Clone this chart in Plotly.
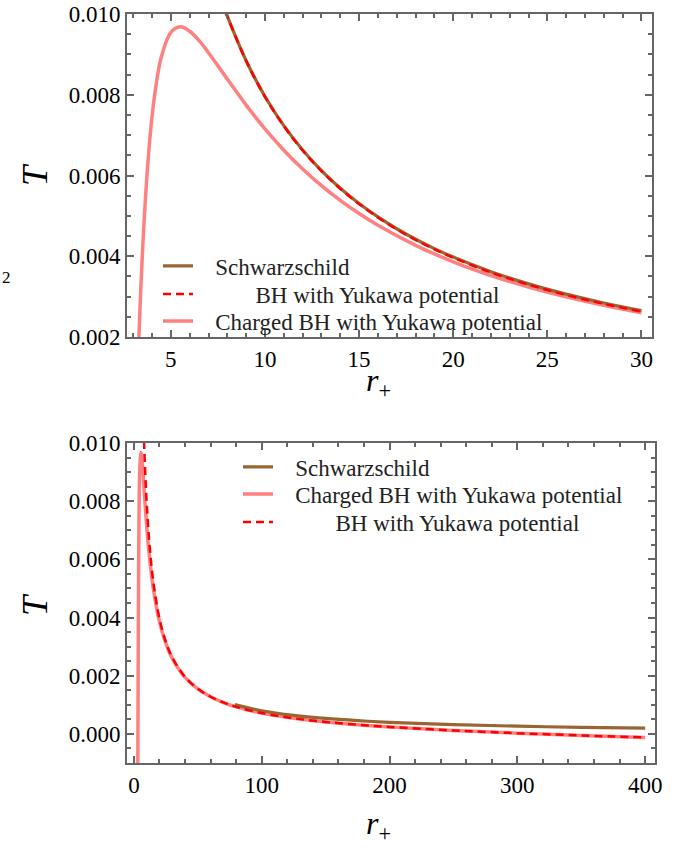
import plotly.graph_objects as go
from plotly.subplots import make_subplots

# ---------------- data ----------------
# Top panel
r_top = [7.9, 8, 9, 10, 11, 12, 13, 14, 15, 16, 17, 18, 19, 20, 22, 24, 26, 28, 30]
T_schw_top = [0.010073, 0.009947, 0.008842, 0.007958, 0.007234, 0.006631, 0.006121,
              0.005684, 0.005305, 0.004974, 0.004681, 0.004421, 0.004188, 0.003979,
              0.003617, 0.003316, 0.003061, 0.002842, 0.002653]
T_yuk_top = [0.010067, 0.009941, 0.008835, 0.007950, 0.007225, 0.006622, 0.006111,
             0.005673, 0.005293, 0.004961, 0.004667, 0.004407, 0.004173, 0.003963,
             0.003599, 0.003297, 0.003040, 0.002820, 0.002629]
r_chg_top = [3.2, 3.25, 3.3, 3.4, 3.5, 3.6, 3.8, 4.0, 4.25, 4.5, 5.0, 5.5, 6.0, 6.5, 7,
             8, 9, 10, 11, 12, 13, 14, 15, 16, 18, 20, 22, 24, 26, 28, 30]
T_chg_top = [0.000580, 0.001301, 0.001968, 0.003156, 0.004173, 0.005046, 0.006436,
             0.007457, 0.008355, 0.008947, 0.009545, 0.009682, 0.009574, 0.009340,
             0.009042, 0.008387, 0.007743, 0.007154, 0.006627, 0.006161, 0.005749,
             0.005383, 0.005057, 0.004766, 0.004271, 0.003863, 0.003524, 0.003239,
             0.002994, 0.002784, 0.002599]

# Bottom panel
r_schw_bot = [79, 100, 125, 150, 175, 200, 250, 300, 350, 400]
T_schw_bot = [0.001007, 0.000796, 0.000637, 0.000531, 0.000455, 0.000398,
              0.000318, 0.000265, 0.000227, 0.000199]
r_chg_bot = [3.1, 3.2, 3.3, 3.5, 4.0, 4.5, 5.5, 7, 8, 10, 12, 15, 20, 25, 30, 40, 50,
             60, 70, 80, 100, 125, 150, 175, 200, 250, 300, 350, 400]
T_chg_bot = [-0.00104, 0.00058, 0.00197, 0.00417, 0.00746, 0.00895, 0.00968, 0.00904,
             0.00839, 0.00715, 0.00616, 0.00506, 0.00386, 0.003112, 0.002599, 0.001945,
             0.001545, 0.001275, 0.001079, 0.000929, 0.000715, 0.000536, 0.000410,
             0.000315, 0.000238, 0.000118, 0.000025, -0.000053, -0.000121]
r_yuk_bot = [7.9, 8, 9, 10, 12, 15, 20, 25, 30, 40, 50, 60, 70, 80, 100, 125, 150,
             175, 200, 250, 300, 350, 400]
T_yuk_bot = [0.010067, 0.009941, 0.008835, 0.007950, 0.006622, 0.005293, 0.003963,
             0.003163, 0.002629, 0.001957, 0.001552, 0.001278, 0.001081, 0.000931,
             0.000716, 0.000537, 0.000411, 0.000315, 0.000238, 0.000118, 0.000025,
             -0.000053, -0.000121]

top_xticks = [5, 10, 15, 20, 25, 30]
bot_xticks = [0, 100, 200, 300, 400]

NB = "\u00a0"
NAME_S = NB * 3 + "Schwarzschild"
NAME_Y = NB * 10 + "BH with Yukawa potential"
NAME_C = NB * 3 + "Charged BH with Yukawa potential"

# ---------------- styles ----------------
BROWN = "#996633"
RED = "#FF0000"
PINK = "#FF8080"
FRAME = "#666666"
FONT = "Liberation Serif, DejaVu Serif, serif"

W, H = 680, 848
ML, MR, MT, MB = 127, 25, 14, 85
pw, ph = W - ML - MR, H - MT - MB


def px_x(px):
    return (px - ML) / pw


def px_y(py):
    return (H - MB - py) / ph


fig = make_subplots(rows=2, cols=1)

# top panel traces
fig.add_trace(go.Scatter(x=r_chg_top, y=T_chg_top, mode="lines", name=NAME_C,
                         line=dict(color=PINK, width=3.5, shape="spline"),
                         legend="legend3"), row=1, col=1)
fig.add_trace(go.Scatter(x=r_top, y=T_schw_top, mode="lines", name=NAME_S,
                         line=dict(color=BROWN, width=3.2, shape="spline"),
                         legend="legend"), row=1, col=1)
fig.add_trace(go.Scatter(x=r_top, y=T_yuk_top, mode="lines", name=NAME_Y,
                         line=dict(color=RED, width=2.5, dash="8px,5px", shape="spline"),
                         legend="legend2"), row=1, col=1)

# bottom panel traces
fig.add_trace(go.Scatter(x=r_chg_bot, y=T_chg_bot, mode="lines", name=NAME_C,
                         line=dict(color=PINK, width=3.5, shape="spline"),
                         legend="legend5"), row=2, col=1)
fig.add_trace(go.Scatter(x=r_schw_bot, y=T_schw_bot, mode="lines", name=NAME_S,
                         line=dict(color=BROWN, width=3.2, shape="spline"),
                         legend="legend4"), row=2, col=1)
fig.add_trace(go.Scatter(x=r_yuk_bot, y=T_yuk_bot, mode="lines", name=NAME_Y,
                         line=dict(color=RED, width=2.5, dash="8px,5px", shape="spline"),
                         legend="legend6"), row=2, col=1)

axis_common = dict(showline=True, mirror="allticks", linecolor=FRAME, linewidth=2,
                   ticks="inside", ticklen=7, tickwidth=1.5, tickcolor=FRAME,
                   showgrid=False, zeroline=False, automargin=False,
                   tickfont=dict(family=FONT, size=23, color="black"))


def leg(xpx, ypx):
    return dict(x=px_x(xpx), y=px_y(ypx), xanchor="left", yanchor="middle",
                bgcolor="rgba(0,0,0,0)", font=dict(family=FONT, size=23, color="#222"),
                tracegroupgap=0, itemwidth=30)


fig.update_layout(
    width=W, height=H,
    margin=dict(l=ML, r=MR, t=MT, b=MB, autoexpand=False),
    paper_bgcolor="white", plot_bgcolor="white",
    font=dict(family=FONT, color="black"),
    xaxis=dict(domain=[0, px_x(652)], range=[2.67, 30.56], tickvals=top_xticks,
               minor=dict(ticks="inside", dtick=1, tick0=0, ticklen=4, tickcolor=FRAME,
                          showgrid=False),
               **axis_common),
    yaxis=dict(domain=[px_y(337), 1], range=[0.002, 0.010], dtick=0.002, tick0=0,
               tickformat=".3f",
               minor=dict(ticks="inside", dtick=0.0005, tick0=0, ticklen=4,
                          tickcolor=FRAME, showgrid=False),
               **axis_common),
    xaxis2=dict(domain=[0, 1], range=[-5.4, 407.7], tickvals=bot_xticks,
                minor=dict(ticks="inside", dtick=20, tick0=0, ticklen=4, tickcolor=FRAME,
                           showgrid=False),
                **axis_common),
    yaxis2=dict(domain=[0, px_y(443)], range=[-0.001, 0.010], dtick=0.002, tick0=0,
                tickformat=".3f",
                minor=dict(ticks="inside", dtick=0.0005, tick0=0, ticklen=4,
                           tickcolor=FRAME, showgrid=False),
                **axis_common),
    legend=leg(158, 266),
    legend2=leg(158, 294),
    legend3=leg(158, 321),
    legend4=leg(238, 467),
    legend5=leg(238, 494),
    legend6=leg(238, 522),
    showlegend=True,
)

ann_font_T = dict(family=FONT, size=36, color="black")
ann_font_r = dict(family=FONT, size=32, color="black")
for ypx in (175, 605):
    fig.add_annotation(x=px_x(35), y=px_y(ypx), xref="paper", yref="paper",
                       xanchor="center", yanchor="middle",
                       text="<i>T</i>", textangle=-90, showarrow=False, font=ann_font_T)
for ypx in (382, 825):
    fig.add_annotation(x=px_x(378), y=px_y(ypx), xref="paper", yref="paper",
                       xanchor="center", yanchor="middle",
                       text="<i>r</i><sub>+</sub>", showarrow=False, font=ann_font_r)
fig.add_annotation(x=px_x(0), y=px_y(277), xref="paper", yref="paper",
                   xanchor="left", yanchor="middle",
                   text="2", showarrow=False, font=dict(family=FONT, size=17, color="black"))

fig.write_html("out.html")
